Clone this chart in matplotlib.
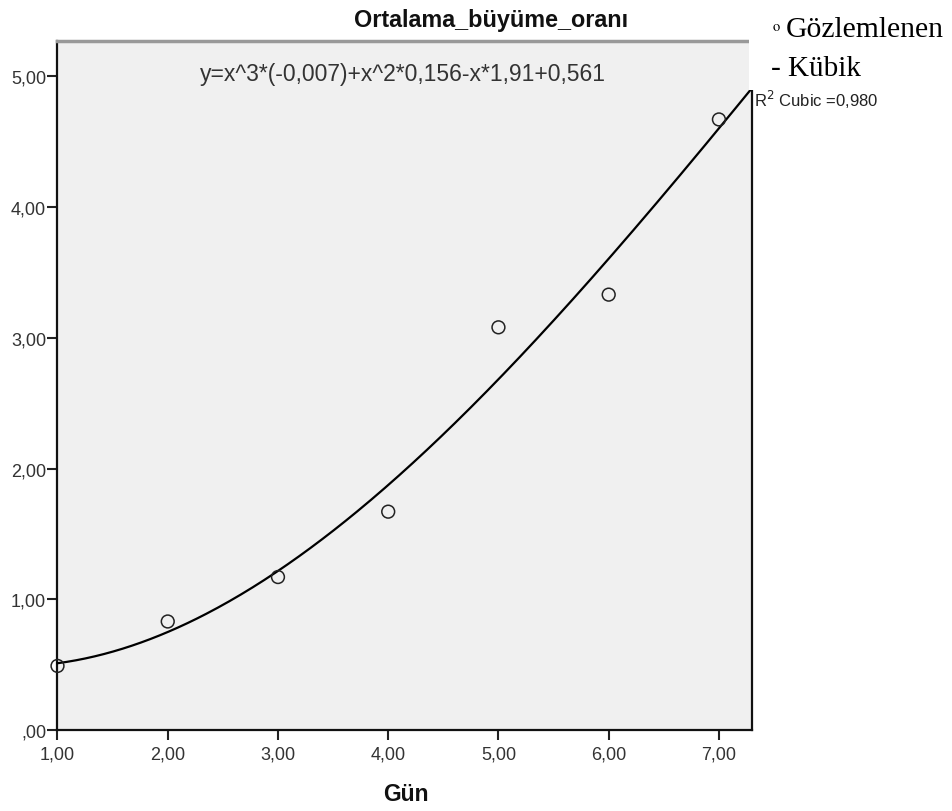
import numpy as np
import matplotlib
matplotlib.use("Agg")
import matplotlib.pyplot as plt
from matplotlib.patches import Rectangle

# Data
gun = [1, 2, 3, 4, 5, 6, 7]
ortalama = [0.49, 0.83, 1.17, 1.67, 3.08, 3.33, 4.67]
xticks = [1, 2, 3, 4, 5, 6, 7]
yticks = [0, 1, 2, 3, 4, 5]

def fmt(v):
    s = f"{v:.2f}".replace(".", ",")
    if s.startswith("0,"):
        s = s[1:]
    return s

W, H = 953, 812
fig = plt.figure(figsize=(W / 100, H / 100), dpi=100)
ax = fig.add_axes([57.5 / W, 1 - 731 / H, (752 - 57.5) / W, (731 - 42) / H])
ax.set_facecolor("#F0F0F0")

coef = np.polyfit(gun, ortalama, 3)
xs = np.linspace(1, 7.3, 300)
ax.plot(xs, np.polyval(coef, xs), color="black", lw=1.6, zorder=3, clip_on=False)
ax.scatter(gun, ortalama, s=85, facecolors="none", edgecolors="#222222",
           linewidths=1.1, zorder=4, clip_on=False)

ax.set_xlim(1, 7.3)
ax.set_ylim(0, 5.27)
ax.set_xticks(xticks)
ax.set_xticklabels([fmt(v) for v in xticks])
ax.set_yticks(yticks)
ax.set_yticklabels([fmt(v) for v in yticks])
ax.tick_params(direction="out", length=7.2, width=1.5, color="#222222",
               labelcolor="#333333", labelsize=13)
ax.tick_params(axis="x", pad=4)
ax.tick_params(axis="y", pad=1)
for lab in ax.get_xticklabels() + ax.get_yticklabels():
    lab.set_family("Liberation Sans")

for s in ["left", "bottom", "right"]:
    ax.spines[s].set_color("#111111")
    ax.spines[s].set_linewidth(1.6)
ax.spines["top"].set_color("#999999")
ax.spines["top"].set_linewidth(2.5)

fig.text(403 / W, 1 - 74 / H, "y=x^3*(-0,007)+x^2*0,156-x*1,91+0,561",
         ha="center", va="center", fontsize=16.5, color="#333333", family="Liberation Sans")

fig.text(491 / W, 1 - 21 / H, "Ortalama_büyüme_oranı", ha="center", va="center",
         fontsize=16.8, fontweight="bold", family="Liberation Sans", color="#111111")
fig.text(406 / W, 1 - 795 / H, "Gün", ha="center", va="center",
         fontsize=16.5, fontweight="bold", family="Liberation Sans", color="#111111")

# white legend box covering corner
fig.patches.append(Rectangle((749 / W, 1 - 91 / H), (W - 749) / W, 91 / H,
                             transform=fig.transFigure, facecolor="white",
                             edgecolor="none", zorder=10))
fig.text(772 / W, 1 - 37 / H, r"$^{\mathrm{o}}$", ha="left", va="baseline",
         fontsize=15, family="Liberation Serif", color="black", zorder=11,
         math_fontfamily="stix")
fig.text(786 / W, 1 - 37 / H, "Gözlemlenen", ha="left", va="baseline",
         fontsize=21.3, family="Liberation Serif", color="black", zorder=11)
fig.text(771 / W, 1 - 76 / H, "- Kübik", ha="left", va="baseline",
         fontsize=21, family="Liberation Serif", color="black", zorder=11)
fig.text(754 / W, 1 - 107 / H, r"R$^{2}$ Cubic =0,980", ha="left", va="baseline",
         fontsize=12, family="Liberation Sans", color="#222222", zorder=11,
         math_fontfamily="dejavusans")

fig.savefig("out.png", dpi=100)
